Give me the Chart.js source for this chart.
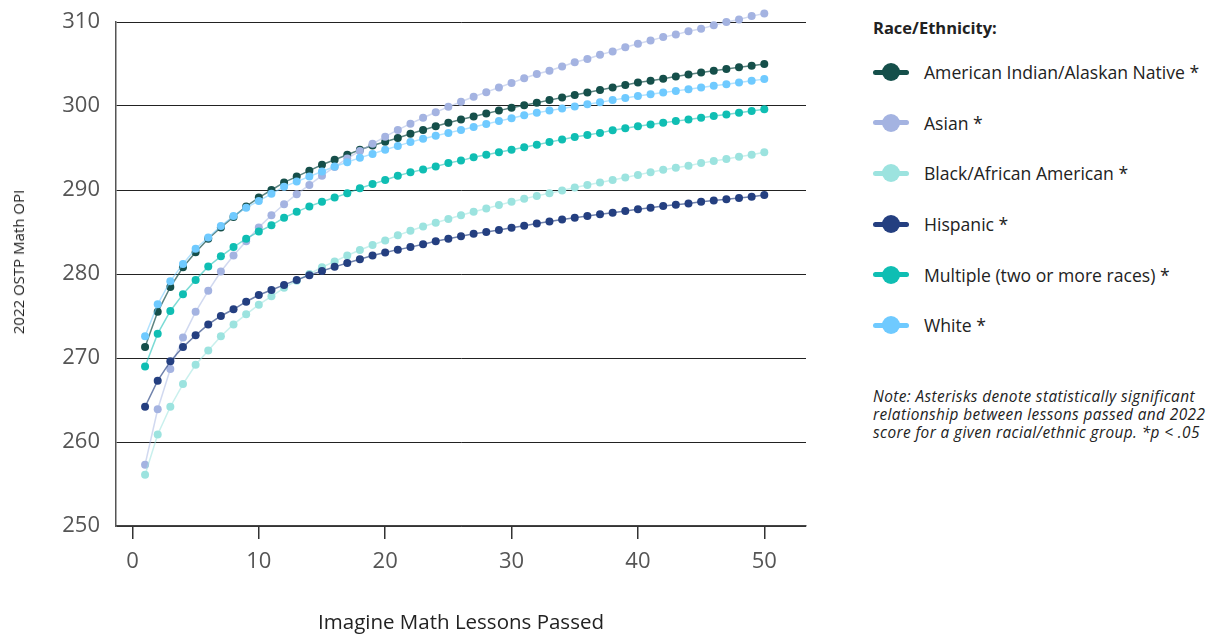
<!DOCTYPE html>
<html>
<head>
<meta charset="utf-8">
<script src="https://cdn.jsdelivr.net/npm/chart.js@4"></script>
<style>
  body { margin: 0; background: #fff; font-family: "Open Sans", sans-serif; color: #222; }
  #wrap { position: relative; width: 1217px; height: 640px; }
  #plot { position: absolute; left: 0; top: 0; width: 830px; height: 640px; }
  #ytitle { position: absolute; left: 18px; top: 262px; transform: translate(-50%, -50%) rotate(-90deg);
    white-space: nowrap; font-size: 15px; color: #222; }
  #legend { position: absolute; left: 873px; top: 16px; width: 345px; }
  #legend h4 { margin: 0 0 8px 0; font-size: 16.5px; font-weight: 700; }
  .item { display: flex; align-items: center; height: 50.6px; font-size: 17.6px; }
  .icon { position: relative; width: 36px; height: 18px; margin-right: 15px; flex: none; }
  .icon .ln { position: absolute; left: 0; top: 6.5px; width: 36px; height: 5px; border-radius: 3px; }
  .icon .dot { position: absolute; left: 9px; top: 0; width: 18px; height: 18px; border-radius: 50%; }
  .note { margin-top: 37px; font-size: 15.4px; letter-spacing: .4px; font-style: italic; line-height: 18px; }
</style>
</head>
<body>
<div id="wrap">
  <div id="plot"><canvas id="chart"></canvas></div>
  <div id="ytitle">2022 OSTP Math OPI</div>
  <div id="legend"></div>
</div>
<script>
const lessons = [1, 2, 3, 4, 5, 6, 7, 8, 9, 10, 11, 12, 13, 14, 15, 16, 17, 18, 19, 20,
  21, 22, 23, 24, 25, 26, 27, 28, 29, 30, 31, 32, 33, 34, 35, 36, 37, 38, 39, 40,
  41, 42, 43, 44, 45, 46, 47, 48, 49, 50];

const amIndian = [271.3, 275.5, 278.45, 280.8, 282.6, 284.2, 285.55, 286.8, 288.05, 289.1,
  290.0, 290.9, 291.6, 292.3, 293.0, 293.6, 294.2, 294.8, 295.3, 295.75,
  296.2, 296.7, 297.15, 297.6, 298.0, 298.4, 298.75, 299.1, 299.45, 299.8,
  300.1, 300.4, 300.7, 301.0, 301.3, 301.6, 301.9, 302.2, 302.5, 302.8,
  303.0, 303.25, 303.5, 303.75, 304.0, 304.2, 304.4, 304.6, 304.8, 305.0];
const asian = [257.3, 263.9, 268.7, 272.45, 275.5, 278.0, 280.3, 282.2, 283.9, 285.55,
  287.0, 288.3, 289.5, 290.6, 291.7, 292.75, 293.75, 294.65, 295.5, 296.35,
  297.15, 297.9, 298.6, 299.25, 299.9, 300.5, 301.1, 301.65, 302.2, 302.75,
  303.3, 303.8, 304.2, 304.7, 305.2, 305.6, 306.1, 306.5, 307.0, 307.4,
  307.8, 308.2, 308.5, 308.9, 309.2, 309.6, 310.0, 310.3, 310.7, 311.0];
const black = [256.1, 260.9, 264.2, 266.9, 269.2, 270.9, 272.6, 274.0, 275.2, 276.35,
  277.35, 278.35, 279.2, 280.0, 280.8, 281.5, 282.2, 282.85, 283.45, 284.0,
  284.6, 285.15, 285.65, 286.1, 286.55, 287.0, 287.4, 287.8, 288.2, 288.6,
  288.95, 289.3, 289.6, 289.95, 290.3, 290.6, 290.9, 291.2, 291.5, 291.8,
  292.1, 292.4, 292.65, 292.9, 293.2, 293.45, 293.7, 293.95, 294.2, 294.5];
const hispanic = [264.2, 267.3, 269.6, 271.3, 272.7, 274.0, 275.0, 275.8, 276.7, 277.5,
  278.1, 278.7, 279.3, 279.85, 280.35, 280.85, 281.3, 281.75, 282.2, 282.55,
  282.9, 283.2, 283.55, 283.9, 284.2, 284.5, 284.8, 285.0, 285.25, 285.5,
  285.75, 286.0, 286.25, 286.5, 286.7, 286.9, 287.1, 287.3, 287.5, 287.7,
  287.9, 288.1, 288.25, 288.4, 288.6, 288.75, 288.9, 289.05, 289.2, 289.4];
const multiple = [269.0, 272.9, 275.6, 277.6, 279.3, 280.9, 282.1, 283.2, 284.2, 285.05,
  285.8, 286.7, 287.4, 288.05, 288.6, 289.1, 289.6, 290.2, 290.7, 291.2,
  291.7, 292.1, 292.45, 292.8, 293.2, 293.5, 293.9, 294.2, 294.5, 294.8,
  295.1, 295.4, 295.7, 296.0, 296.3, 296.55, 296.8, 297.1, 297.35, 297.6,
  297.8, 298.0, 298.2, 298.4, 298.6, 298.8, 299.0, 299.2, 299.4, 299.6];
const white = [272.6, 276.4, 279.15, 281.2, 283.0, 284.35, 285.7, 286.9, 287.9, 288.7,
  289.55, 290.4, 291.0, 291.6, 292.2, 292.8, 293.3, 293.85, 294.3, 294.8,
  295.25, 295.7, 296.1, 296.45, 296.8, 297.15, 297.5, 297.85, 298.2, 298.55,
  298.9, 299.2, 299.45, 299.7, 299.95, 300.2, 300.45, 300.7, 300.95, 301.2,
  301.4, 301.6, 301.8, 302.0, 302.2, 302.4, 302.6, 302.8, 303.0, 303.2];

const seriesNames = ["American Indian/Alaskan Native *", "Asian *", "Black/African American *",
  "Hispanic *", "Multiple (two or more races) *", "White *"];
const seriesValues = [amIndian, asian, black, hispanic, multiple, white];
const seriesColors = ["#154f4a", "#a4b3e1", "#9ce3df", "#243f80", "#0fbeb3", "#6fcaff"];
const seriesLines = ["rgba(21,79,74,.7)", "rgba(164,179,225,.5)", "rgba(156,227,223,.55)",
  "rgba(36,63,128,.65)", "rgba(15,190,179,.55)", "rgba(111,202,255,.55)"];

const xTicks = [0, 10, 20, 30, 40, 50];
const yTicks = [250, 260, 270, 280, 290, 300, 310];

// legend on the right is plain html
const legend = document.getElementById("legend");
let html = "<h4>Race/Ethnicity:</h4>";
seriesNames.forEach((n, i) => {
  html += `<div class="item"><span class="icon"><span class="ln" style="background:${seriesColors[i]}"></span>` +
    `<span class="dot" style="background:${seriesColors[i]}"></span></span>${n}</div>`;
});
html += `<div class="note">Note: Asterisks denote statistically significant relationship between lessons passed and 2022 score for a given racial/ethnic group. *p &lt; .05</div>`;
legend.innerHTML = html;

// points above 310 (Asian) still have to show, so widen the area while datasets draw
const looseArea = {
  id: "looseArea",
  beforeDatasetsDraw(chart) { chart._top = chart.chartArea.top; chart.chartArea.top -= 30; },
  afterDatasetsDraw(chart) { chart.chartArea.top = chart._top; }
};

const datasets = seriesNames.map((n, i) => ({
  label: n,
  data: lessons.map((x, j) => ({ x, y: seriesValues[i][j] })),
  borderColor: seriesLines[i],
  borderWidth: 1.5,
  backgroundColor: seriesColors[i],
  pointBackgroundColor: seriesColors[i],
  pointBorderWidth: 0,
  pointRadius: 4,
  tension: 0,
  clip: false
})).reverse();

new Chart(document.getElementById("chart"), {
  type: "line",
  data: { datasets },
  plugins: [looseArea],
  options: {
    responsive: true,
    maintainAspectRatio: false,
    animation: false,
    parsing: false,
    layout: { padding: { top: 22, right: 24, left: 0, bottom: 0 } },
    plugins: { legend: { display: false }, tooltip: { enabled: false } },
    scales: {
      x: {
        type: "linear",
        min: -1.3,
        max: 53.3,
        afterBuildTicks: s => { s.ticks = xTicks.map(v => ({ value: v })); },
        afterFit: s => { s.height = 114; },
        border: { display: true, color: "#444", width: 1.5 },
        grid: { drawOnChartArea: false, drawTicks: true, tickLength: 13, tickColor: "#333", lineWidth: 1.5 },
        ticks: { color: "#555", font: { family: "Open Sans", size: 22 }, padding: 10, maxRotation: 0 },
        title: { display: true, text: "Imagine Math Lessons Passed", color: "#222",
          font: { family: "Open Sans", size: 20.5 }, padding: { top: 0, bottom: 5 } }
      },
      y: {
        min: 250,
        max: 310,
        afterBuildTicks: s => { s.ticks = yTicks.map(v => ({ value: v })); },
        afterFit: s => { s.width = 116; },
        border: { display: true, color: "#555", width: 1.5 },
        grid: { color: "#222", lineWidth: 1, drawTicks: true, tickLength: 12, tickColor: "rgba(0,0,0,0)" },
        ticks: { color: "#555", font: { family: "Open Sans", size: 22 }, padding: 4 }
      }
    }
  }
});
</script>
</body>
</html>
